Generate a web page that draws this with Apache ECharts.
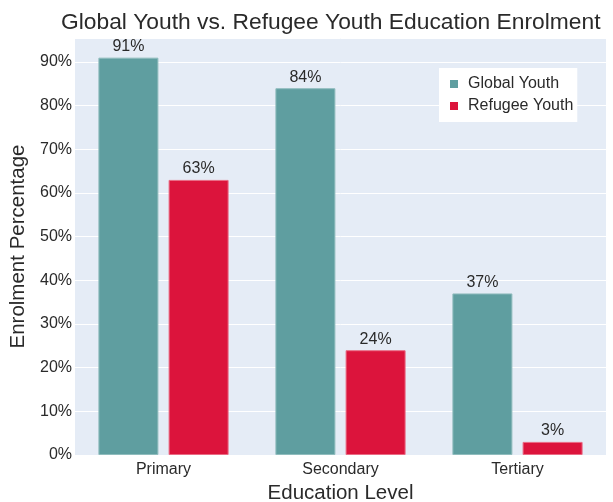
<!DOCTYPE html>
<html><head><meta charset="utf-8">
<script src="https://cdn.jsdelivr.net/npm/echarts@6/dist/echarts.min.js"></script>
<style>html,body{margin:0;padding:0;background:#fff}#c{width:613px;height:502px}</style>
</head><body><div id="c"></div>
<script>
const categories = ['Primary', 'Secondary', 'Tertiary'];
const globalYouth = [91, 84, 37];
const refugeeYouth = [63, 24, 3];
const yTicks = [0, 10, 20, 30, 40, 50, 60, 70, 80, 90];

const font = 'Arial, "Liberation Sans", sans-serif';
const txt = '#2a2a2a';
const chart = echarts.init(document.getElementById('c'), null, {renderer: 'canvas'});
chart.setOption({
  animation: false,
  backgroundColor: '#fff',
  title: {
    text: 'Global Youth vs. Refugee Youth Education Enrolment',
    left: 56, top: 6,
    textStyle: {fontFamily: font, fontSize: 22.8, fontWeight: 'normal', color: txt}
  },
  legend: {
    orient: 'vertical',
    left: 439, top: 68,
    backgroundColor: '#fff',
    padding: [8, 4, 8, 11],
    itemWidth: 8, itemHeight: 8, itemGap: 6,
    icon: 'rect',
    itemStyle: {borderWidth: 0},
    textStyle: {fontFamily: font, fontSize: 16, color: txt, padding: [0, 0, 0, 5]},
    data: ['Global Youth', 'Refugee Youth']
  },
  grid: {left: 75, right: 7, top: 38, bottom: 47, show: true, backgroundColor: '#E5ECF6', borderWidth: 0,
    outerBoundsMode: 'none', containLabel: false},
  xAxis: {
    type: 'category', data: categories,
    axisLine: {show: false}, axisTick: {show: false},
    axisLabel: {fontFamily: font, fontSize: 16, color: txt, margin: 7},
    name: 'Education Level', nameLocation: 'middle', nameGap: 28,
    nameTextStyle: {fontFamily: font, fontSize: 20.5, color: txt}
  },
  yAxis: {
    type: 'value', min: 0, max: 95.5, interval: 10,
    axisLine: {show: false}, axisTick: {show: false},
    splitLine: {lineStyle: {color: '#fff', width: 1}},
    axisLabel: {fontFamily: font, fontSize: 16, color: txt, margin: 3,
      formatter: v => yTicks.includes(v) ? v + '%' : ''},
    name: 'Enrolment Percentage', nameLocation: 'middle', nameGap: 44,
    nameTextStyle: {fontFamily: font, fontSize: 20.5, color: txt}
  },
  series: [
    {name: 'Global Youth', type: 'bar', data: globalYouth, barWidth: 60, barGap: '17%',
     itemStyle: {color: '#5F9EA0', borderColor: '#8fbcbd', borderWidth: 1},
     label: {show: true, position: 'top', distance: 3, formatter: '{c}%', fontFamily: font, fontSize: 16, color: txt}},
    {name: 'Refugee Youth', type: 'bar', data: refugeeYouth, barWidth: 60,
     itemStyle: {color: '#DC143C', borderColor: '#ea6b84', borderWidth: 1},
     label: {show: true, position: 'top', distance: 3, formatter: '{c}%', fontFamily: font, fontSize: 16, color: txt}}
  ]
});
</script></body></html>
